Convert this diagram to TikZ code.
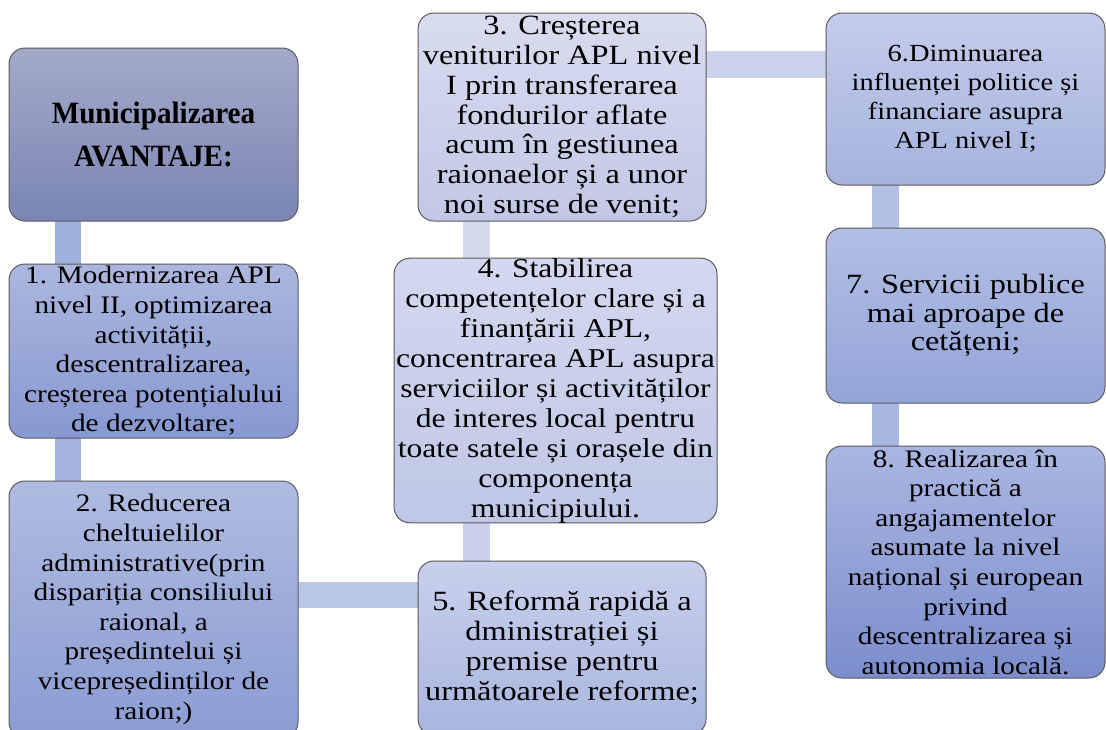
\documentclass[tikz,border=0pt]{standalone}
\usepackage{fontspec}
\setmainfont{Liberation Serif}
\newfontfamily\boxfont[FakeStretch=1.16]{Liberation Serif}
\newfontfamily\headfont[FakeStretch=0.94]{Liberation Serif}
\usetikzlibrary{calc,backgrounds}

% box fills (top / bottom of each gradient)
\definecolor{tT}{RGB}{163,170,200}\definecolor{tB}{RGB}{122,133,180}
\definecolor{aT}{RGB}{172,183,222}\definecolor{aB}{RGB}{135,152,210}
\definecolor{bT}{RGB}{175,187,224}\definecolor{bB}{RGB}{140,156,212}
\definecolor{cT}{RGB}{216,220,238}\definecolor{cB}{RGB}{192,200,230}
\definecolor{dT}{RGB}{210,216,238}\definecolor{dB}{RGB}{190,199,230}
\definecolor{eT}{RGB}{200,208,236}\definecolor{eB}{RGB}{168,181,222}
\definecolor{fT}{RGB}{196,204,234}\definecolor{fB}{RGB}{166,179,222}
\definecolor{gT}{RGB}{178,190,228}\definecolor{gB}{RGB}{148,164,216}
\definecolor{hT}{RGB}{170,182,225}\definecolor{hB}{RGB}{124,141,205}
% connector bars
\definecolor{k1}{RGB}{160,176,220}
\definecolor{k2}{RGB}{165,180,222}
\definecolor{k3}{RGB}{186,198,230}
\definecolor{k4}{RGB}{212,217,236}
\definecolor{k5}{RGB}{200,208,234}
\definecolor{k6}{RGB}{202,210,236}
\definecolor{k7}{RGB}{180,192,228}
\definecolor{k8}{RGB}{168,182,224}
\definecolor{edge}{RGB}{90,90,95}

\tikzset{
  card/.style={draw=edge, line width=0.75pt, rounded corners=12pt,
    inner sep=0pt, outer sep=0pt, align=center, text=black},
  txtA/.style={font=\boxfont\fontsize{18.9}{22.2}\selectfont},
  txtB/.style={font=\boxfont\fontsize{20.9}{22.4}\selectfont},
  txtC/.style={font=\boxfont\fontsize{18.4}{21.8}\selectfont},
}

\begin{document}
\begin{tikzpicture}[x=0.75pt, y=-0.75pt]
\useasboundingbox (0,0) rectangle (1106,729);
\clip (0,0) rectangle (1106,729);

% left column
\node[card, top color=tT, bottom color=tB, minimum width=216.75pt, minimum height=129.75pt,
  font=\headfont\bfseries\fontsize{23.25}{32.25}\selectfont] (title) at (153.5,134.5)
  {Municipalizarea\\AVANTAJE:};
\node[card, txtA, top color=aT, bottom color=aB, minimum width=216.75pt, minimum height=130.5pt]
  (b1) at (153.5,351)
  {1. Modernizarea APL\\nivel II, optimizarea\\activității,\\descentralizarea,\\creșterea potențialului\\de dezvoltare;};
\node[card, txtA, top color=bT, bottom color=bB, minimum width=216.75pt, minimum height=192.75pt]
  (b2) at (153.5,609.5)
  {2. Reducerea\\cheltuielilor\\administrative(prin\\dispariția consiliului\\raional, a\\președintelui și\\vicepreședinților de\\raion;)};

% middle column
\node[card, txtB, top color=cT, bottom color=cB, minimum width=216pt, minimum height=156pt]
  (b3) at (562,117)
  {3. Creșterea\\veniturilor APL nivel\\I prin transferarea\\fondurilor aflate\\acum în gestiunea\\raionaelor și a unor\\noi surse de venit;};
\node[card, top color=dT, bottom color=dB, minimum width=242.25pt, minimum height=189.75pt,
  font=\boxfont\fontsize{20.4}{22.5}\selectfont]
  (b4) at (555.5,390.5)
  {4. Stabilirea\\competențelor clare și a\\finanțării APL,\\concentrarea APL asupra\\serviciilor și activităților\\de interes local pentru\\toate satele și orașele din\\componența\\municipiului.};
\node[card, txtB, top color=eT, bottom color=eB, minimum width=216pt, minimum height=130.5pt]
  (b5) at (562,648)
  {5. Reformă rapidă a\\dministrației și\\premise pentru\\următoarele reforme;};

% right column
\node[card, txtC, top color=fT, bottom color=fB, minimum width=209.25pt, minimum height=129pt]
  (b6) at (965.5,99)
  {6.Diminuarea\\influenței politice și\\financiare asupra\\APL nivel I;};
\node[card, top color=gT, bottom color=gB, minimum width=209.25pt, minimum height=131.25pt,
  font=\boxfont\fontsize{20.9}{21.4}\selectfont]
  (b7) at (965.5,315.5)
  {7. Servicii publice\\mai aproape de\\cetățeni;};
\node[card, txtA, top color=hT, bottom color=hB, minimum width=209.25pt, minimum height=174pt]
  (b8) at (965.5,562)
  {8. Realizarea în\\practică a\\angajamentelor\\asumate la nivel\\național și european\\privind\\descentralizarea și\\autonomia locală.};

% connector bars, behind the cards
\begin{scope}[on background layer]
  \fill[white] (0,0) rectangle (1106,729);
  \fill[k1] ($(title.south west)+(46,0)$) rectangle ($(b1.north west)+(72,0)$);
  \fill[k2] ($(b1.south west)+(46,0)$) rectangle ($(b2.north west)+(72,0)$);
  \fill[k3] ($(b2.north east)+(0,101)$) rectangle ($(b5.north west)+(0,47)$);
  \fill[k4] ($(b3.south west)+(45,0)$) rectangle ($(b4.north west)+(96,0)$);
  \fill[k5] ($(b4.south west)+(69,0)$) rectangle ($(b5.north west)+(72,0)$);
  \fill[k6] ($(b3.north east)+(0,38)$) rectangle ($(b6.north west)+(0,65)$);
  \fill[k7] ($(b6.south west)+(46,0)$) rectangle ($(b7.north west)+(73,0)$);
  \fill[k8] ($(b7.south west)+(46,0)$) rectangle ($(b8.north west)+(73,0)$);
\end{scope}
\end{tikzpicture}
\end{document}
